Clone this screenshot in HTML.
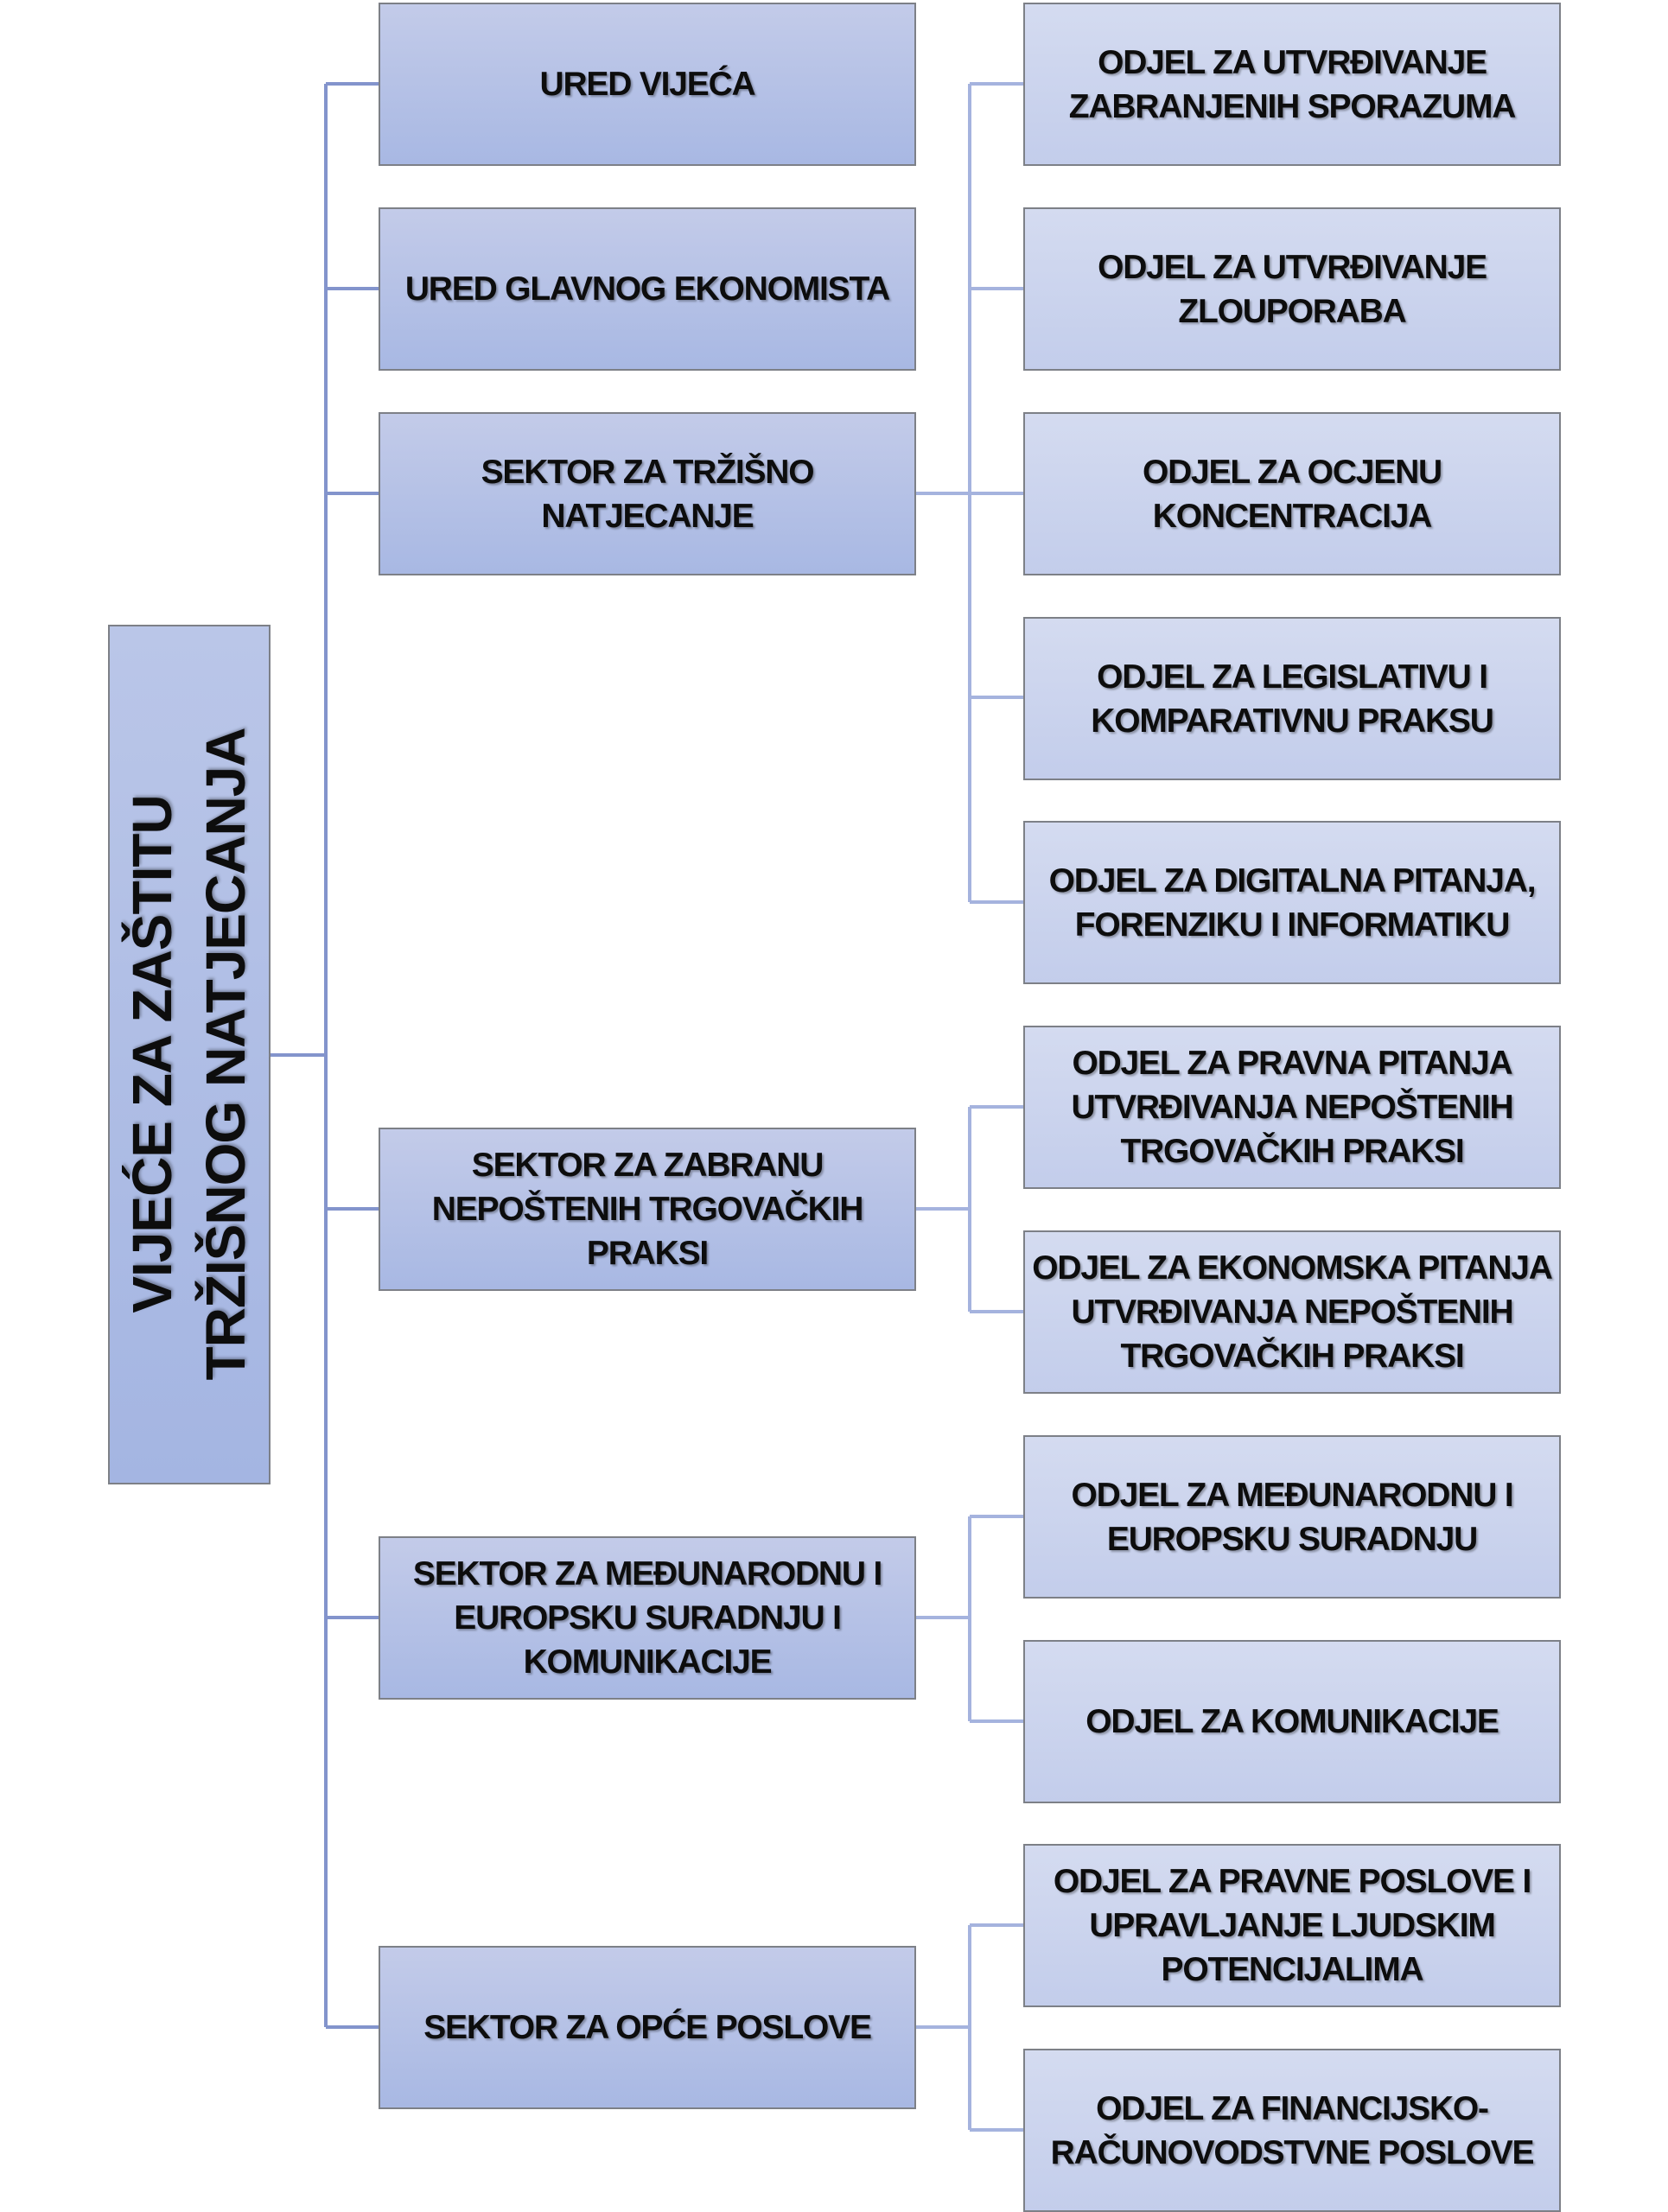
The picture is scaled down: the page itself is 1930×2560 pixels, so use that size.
<!DOCTYPE html>
<html><head><meta charset="utf-8"><style>
html,body{margin:0;padding:0;background:#fff;}
body{width:1930px;height:2560px;position:relative;overflow:hidden;font-family:"Liberation Sans",sans-serif;}
.b{position:absolute;box-sizing:border-box;border:2px solid #7d8087;display:flex;align-items:center;justify-content:center;text-align:center;font-weight:bold;font-size:39px;line-height:51px;color:#0d0d0d;text-shadow:2px 2px 2px rgba(0,0,0,0.3);letter-spacing:-1.2px;}
.l{left:438px;width:622px;height:189px;background:linear-gradient(#c3cbe9,#a8b8e3);}
.r{left:1184px;width:622px;height:189px;background:linear-gradient(#d4dbf0,#c3cdeb);}
.root{left:125px;top:723px;width:188px;height:995px;background:linear-gradient(#bac6e8,#a4b5e2);}
.rt{position:absolute;left:219px;top:1220px;transform:translate(-50%,-50%) rotate(-90deg);white-space:nowrap;font-weight:bold;font-size:64px;line-height:85px;letter-spacing:-1px;text-align:center;color:#0d0d0d;text-shadow:2px 2px 3px rgba(0,0,0,0.3);}
</style></head><body>
<svg width="1930" height="2560" style="position:absolute;left:0;top:0" fill="none" stroke="#8394cc" stroke-width="4">
<path d="M313 1221H377M377 97V2346M377 97H438M377 334H438M377 571H438M377 1399H438M377 1872H438M377 2346H438"/>
<path d="M1060 571H1122M1122 97V1044M1122 97H1184M1122 334H1184M1122 571H1184M1122 807H1184M1122 1044H1184" stroke="#a5b3de"/>
<path d="M1060 1399H1122M1122 1281V1518M1122 1281H1184M1122 1518H1184" stroke="#a5b3de"/>
<path d="M1060 1872H1122M1122 1755V1992M1122 1755H1184M1122 1992H1184" stroke="#a5b3de"/>
<path d="M1060 2346H1122M1122 2228V2465M1122 2228H1184M1122 2465H1184" stroke="#a5b3de"/>
</svg>
<div class="b root"></div>
<div class="rt">VIJEĆE ZA ZAŠTITU<br>TRŽIŠNOG NATJECANJA</div>
<div class="b l" style="top:3px">URED VIJEĆA</div>
<div class="b l" style="top:240px">URED GLAVNOG EKONOMISTA</div>
<div class="b l" style="top:477px">SEKTOR ZA TRŽIŠNO<br>NATJECANJE</div>
<div class="b l" style="top:1305px">SEKTOR ZA ZABRANU<br>NEPOŠTENIH TRGOVAČKIH<br>PRAKSI</div>
<div class="b l" style="top:1778px">SEKTOR ZA MEĐUNARODNU I<br>EUROPSKU SURADNJU I<br>KOMUNIKACIJE</div>
<div class="b l" style="top:2252px">SEKTOR ZA OPĆE POSLOVE</div>
<div class="b r" style="top:3px">ODJEL ZA UTVRĐIVANJE<br>ZABRANJENIH SPORAZUMA</div>
<div class="b r" style="top:240px">ODJEL ZA UTVRĐIVANJE<br>ZLOUPORABA</div>
<div class="b r" style="top:477px">ODJEL ZA OCJENU<br>KONCENTRACIJA</div>
<div class="b r" style="top:714px">ODJEL ZA LEGISLATIVU I<br>KOMPARATIVNU PRAKSU</div>
<div class="b r" style="top:950px">ODJEL ZA DIGITALNA PITANJA,<br>FORENZIKU I INFORMATIKU</div>
<div class="b r" style="top:1187px">ODJEL ZA PRAVNA PITANJA<br>UTVRĐIVANJA NEPOŠTENIH<br>TRGOVAČKIH PRAKSI</div>
<div class="b r" style="top:1424px">ODJEL ZA EKONOMSKA PITANJA<br>UTVRĐIVANJA NEPOŠTENIH<br>TRGOVAČKIH PRAKSI</div>
<div class="b r" style="top:1661px">ODJEL ZA MEĐUNARODNU I<br>EUROPSKU SURADNJU</div>
<div class="b r" style="top:1898px">ODJEL ZA KOMUNIKACIJE</div>
<div class="b r" style="top:2134px">ODJEL ZA PRAVNE POSLOVE I<br>UPRAVLJANJE LJUDSKIM<br>POTENCIJALIMA</div>
<div class="b r" style="top:2371px">ODJEL ZA FINANCIJSKO-<br>RAČUNOVODSTVNE POSLOVE</div>
</body></html>
